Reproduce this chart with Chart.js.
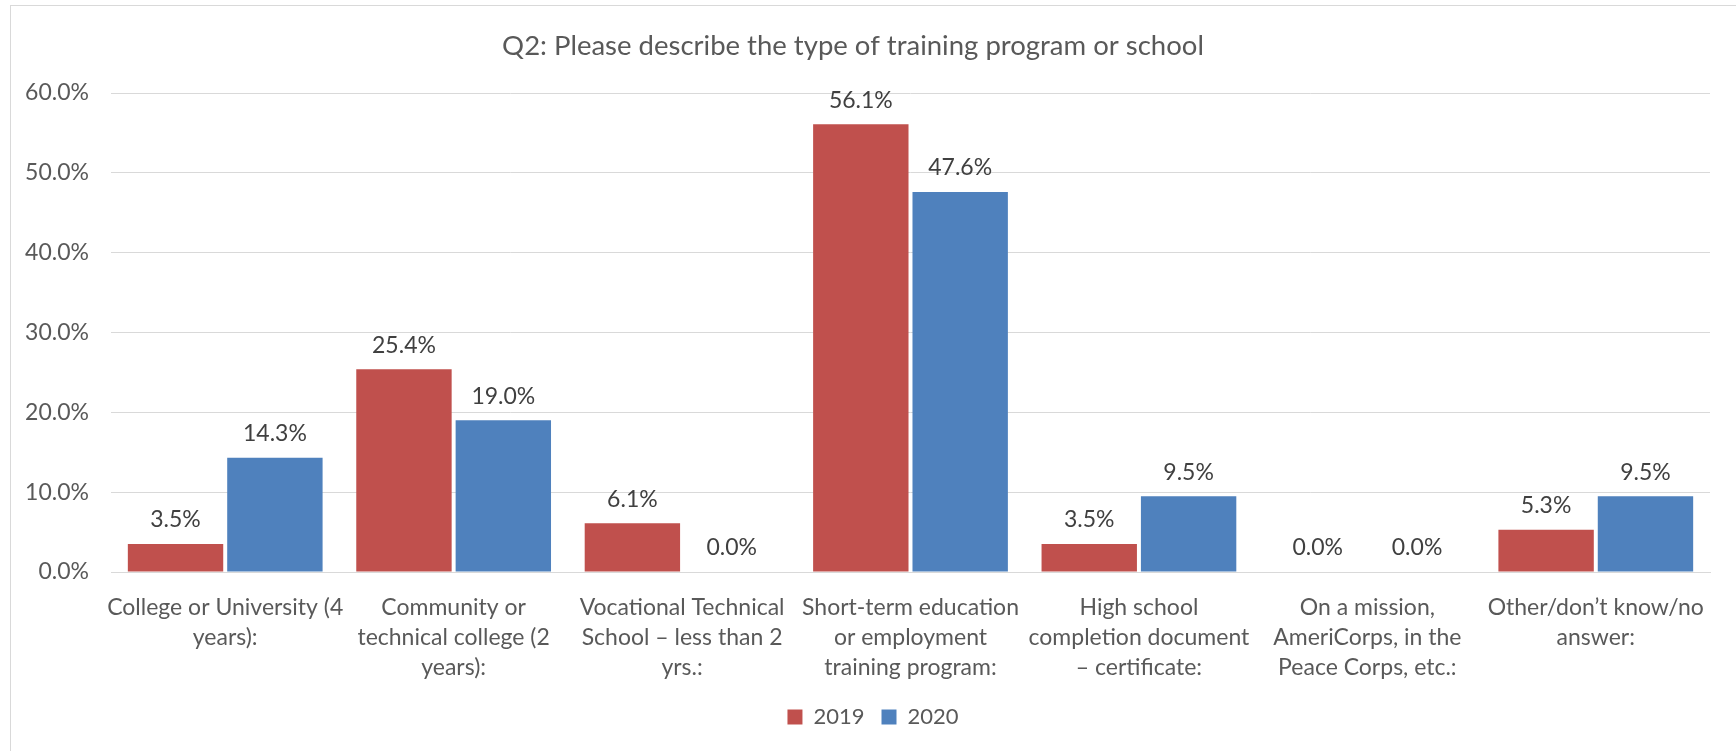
<!DOCTYPE html>
<html>
<head>
<meta charset="utf-8">
<script src="https://cdn.jsdelivr.net/npm/chart.js@4/dist/chart.umd.min.js"></script>
<style>
html,body{margin:0;padding:0;background:#fff;overflow:hidden;}
#wrap{position:relative;width:1736px;height:751px;}
</style>
</head>
<body>
<div id="wrap"><canvas id="c" width="1736" height="751"></canvas></div>
<script>
const titleText = "Q2: Please describe the type of training program or school";
const categories = [
  ["College or University (4", "years):"],
  ["Community or", "technical college (2", "years):"],
  ["Vocational Technical", "School \u2013 less than 2", "yrs.:"],
  ["Short-term education", "or employment", "training program:"],
  ["High school", "completion document", "\u2013 certificate:"],
  ["On a mission,", "AmeriCorps, in the", "Peace Corps, etc.:"],
  ["Other/don\u2019t know/no", "answer:"]
];
const seriesNames = ["2019", "2020"];
const values2019 = [3.5, 25.4, 6.1, 56.1, 3.5, 0.0, 5.3];
const values2020 = [14.3, 19.0, 0.0, 47.6, 9.5, 0.0, 9.5];
const yTicks = [0, 10, 20, 30, 40, 50, 60];

const FONT = "Lato, 'Open Sans', sans-serif";
const TXT = "#595959";

const borderPlugin = {
  id: 'frame',
  beforeDraw(chart) {
    const ctx = chart.ctx;
    ctx.save();
    ctx.strokeStyle = '#D9D9D9';
    ctx.lineWidth = 1;
    ctx.strokeRect(10.5, 5.5, 1800, 900);
    ctx.restore();
  }
};

const titleShift = {
  id: 'titleShift',
  afterLayout(chart) {
    const t = chart.titleBlock;
    if (t) { t.left -= 20; t.right -= 20; }
  }
};

const labelPlugin = {
  id: 'dataLabels',
  afterDatasetsDraw(chart) {
    const ctx = chart.ctx;
    ctx.save();
    ctx.font = "23px " + FONT;
    ctx.fillStyle = "#404040";
    ctx.textAlign = 'center';
    ctx.textBaseline = 'middle';
    chart.data.datasets.forEach((ds, i) => {
      const meta = chart.getDatasetMeta(i);
      meta.data.forEach((bar, j) => {
        ctx.fillText(ds.data[j].toFixed(1) + '%', bar.x, bar.y - 24);
      });
    });
    ctx.restore();
  }
};

new Chart(document.getElementById('c'), {
  type: 'bar',
  data: {
    labels: categories,
    datasets: [
      { label: seriesNames[0], data: values2019, backgroundColor: '#C0504D', categoryPercentage: 0.87, barPercentage: 0.96 },
      { label: seriesNames[1], data: values2020, backgroundColor: '#4F81BD', categoryPercentage: 0.87, barPercentage: 0.96 }
    ]
  },
  plugins: [borderPlugin, titleShift, labelPlugin],
  options: {
    responsive: false,
    animation: false,
    layout: { padding: { left: 10, right: 0, top: 0, bottom: 13 } },
    plugins: {
      title: {
        display: true,
        text: titleText,
        color: TXT,
        font: { family: FONT, size: 27.5, weight: 'normal', lineHeight: 1.2 },
        padding: { top: 30, bottom: 30 }
      },
      legend: {
        position: 'bottom',
        labels: {
          color: TXT,
          font: { family: FONT, size: 22 },
          boxWidth: 15, boxHeight: 15,
          padding: 17
        }
      },
      tooltip: { enabled: false }
    },
    scales: {
      x: {
        grid: { display: false },
        border: { display: true, color: '#D9D9D9' },
        ticks: {
          color: TXT, autoSkip: false, maxRotation: 0, minRotation: 0,
          font: { family: FONT, size: 23, lineHeight: 1.3 },
          padding: 13
        },
        afterFit(s) { s.height = 117; }
      },
      y: {
        min: 0, max: 60,
        afterBuildTicks(s) { s.ticks = yTicks.map(v => ({ value: v })); },
        grid: { color: '#D9D9D9', drawTicks: false },
        border: { display: false },
        ticks: {
          color: TXT, padding: 22,
          font: { family: FONT, size: 23 },
          callback: v => v.toFixed(1) + '%'
        },
        afterFit(s) { s.width = 101; }
      },
      yr: {
        position: 'right',
        display: true,
        grid: { display: false, drawTicks: false },
        border: { display: false },
        ticks: { display: false },
        afterFit(s) { s.width = 26; }
      }
    }
  }
});
</script>
</body>
</html>
